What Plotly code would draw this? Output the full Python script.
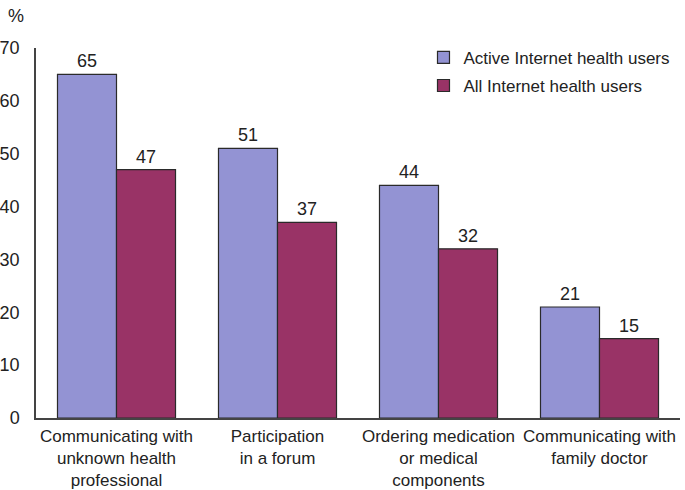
import plotly.graph_objects as go

categories = ["Communicating with<br>unknown health<br>professional",
              "Participation<br>in a forum",
              "Ordering medication<br>or medical<br>components",
              "Communicating with<br>family doctor"]
active = [65, 51, 44, 21]
all_users = [47, 37, 32, 15]
series_names = ["Active Internet health users", "All Internet health users"]
tick_vals = [0, 10, 20, 30, 40, 50, 60, 70]

font = "Liberation Sans, Arial, sans-serif"
fig = go.Figure()
fig.add_trace(go.Bar(x=categories, y=active, name=series_names[0], legendgroup="a",
                     marker=dict(color="#9393d3", line=dict(color="#2a2a2a", width=1.2)),
                     text=active, textposition="outside", cliponaxis=False,
                     textfont=dict(size=18, color="#222")))
fig.add_trace(go.Bar(x=categories, y=all_users, name=series_names[1], legendgroup="b",
                     marker=dict(color="#993366", line=dict(color="#2a2a2a", width=1.2)),
                     text=all_users, textposition="outside", cliponaxis=False,
                     textfont=dict(size=18, color="#222")))
fig.update_layout(
    width=685, height=490, autosize=False,
    margin=dict(l=36, r=5, t=48, b=72),
    paper_bgcolor="white", plot_bgcolor="white",
    font=dict(family=font, color="#222", size=16),
    barmode="group", bargap=0.267, bargroupgap=0,
    showlegend=True,
    legend=dict(x=0.993, y=1.022, xanchor="right", yanchor="top",
                font=dict(size=17), itemwidth=30, tracegroupgap=3,
                bgcolor="rgba(0,0,0,0)"),
    xaxis=dict(range=[-0.5, 3.5], autorange=False, showline=True, linecolor="#444",
               linewidth=1.5, ticks="", tickfont=dict(size=17), mirror=False,
               automargin=False, ticklabelstandoff=2),
    yaxis=dict(range=[0, 70], tickvals=tick_vals, showline=True, linecolor="#444",
               linewidth=1.5, ticks="", showgrid=False, zeroline=False,
               tickfont=dict(size=18), ticklabelstandoff=11, automargin=False),
    annotations=[dict(text="%", x=0, y=1.0, xref="paper", yref="paper",
                      xshift=-20, yshift=32, showarrow=False, font=dict(size=18),
                      xanchor="center", yanchor="middle")],
)
fig.write_html("out.html", config={"displayModeBar": False, "responsive": False},
               post_script="document.body.style.margin='0';document.body.style.overflow='hidden';")
